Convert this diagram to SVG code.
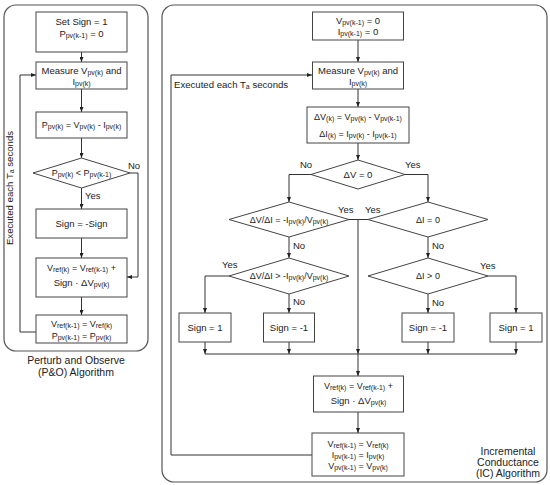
<svg xmlns="http://www.w3.org/2000/svg" width="550" height="485" viewBox="0 0 550 485">
<style>
text{font-family:"Liberation Sans",Arial,sans-serif;font-size:9.5px;fill:#222;text-anchor:middle}
.s{font-size:7px;baseline-shift:-1px}
.sm{font-size:9px}
.lbl{text-anchor:start;font-size:9.5px}
.ex{font-size:9.6px}
.cap{font-size:10.5px}
.box{fill:#fff;stroke:#444;stroke-width:1}
.panel{fill:none;stroke:#555;stroke-width:1.2}
.ln{fill:none;stroke:#333;stroke-width:1}
</style>
<defs>
<marker id="ah" viewBox="0 0 10 8" refX="10" refY="4" markerWidth="5" markerHeight="4" orient="auto" markerUnits="userSpaceOnUse">
<path d="M0,0 L10,4 L0,8 z" fill="#222"/>
</marker>
</defs>
<rect x="0" y="0" width="550" height="485" fill="#fff"/>
<g id="panels">
<rect class="panel" x="4" y="5" width="144" height="346" rx="12"/>
<rect class="panel" x="162" y="5" width="385" height="477" rx="12"/>
</g>
<g id="connectors">
<line class="ln" x1="81.5" y1="52" x2="81.5" y2="62" marker-end="url(#ah)"/>
<line class="ln" x1="81.5" y1="89" x2="81.5" y2="112" marker-end="url(#ah)"/>
<line class="ln" x1="81.5" y1="138" x2="81.5" y2="158" marker-end="url(#ah)"/>
<polyline class="ln" points="130,173 138,173 138,277 127,277" marker-end="url(#ah)"/>
<line class="ln" x1="81.5" y1="188" x2="81.5" y2="209" marker-end="url(#ah)"/>
<line class="ln" x1="81.5" y1="238" x2="81.5" y2="258" marker-end="url(#ah)"/>
<line class="ln" x1="81.5" y1="297" x2="81.5" y2="315" marker-end="url(#ah)"/>
<polyline class="ln" points="36,332 20,332 20,75 36,75" marker-end="url(#ah)"/>
<line class="ln" x1="358" y1="40" x2="358" y2="62" marker-end="url(#ah)"/>
<line class="ln" x1="358" y1="89" x2="358" y2="107" marker-end="url(#ah)"/>
<line class="ln" x1="358" y1="143" x2="358" y2="160" marker-end="url(#ah)"/>
<polyline class="ln" points="311,174.5 289,174.5 289,202" marker-end="url(#ah)"/>
<polyline class="ln" points="405,174.5 428,174.5 428,202" marker-end="url(#ah)"/>
<polyline class="ln" points="349,219.5 358,219.5 358,354" marker-end="url(#ah)"/>
<line class="ln" x1="368" y1="219.5" x2="358" y2="219.5"/>
<line class="ln" x1="289" y1="237" x2="289" y2="258" marker-end="url(#ah)"/>
<line class="ln" x1="428" y1="237" x2="428" y2="258" marker-end="url(#ah)"/>
<polyline class="ln" points="229,276 205,276 205,313" marker-end="url(#ah)"/>
<line class="ln" x1="289" y1="294" x2="289" y2="313" marker-end="url(#ah)"/>
<polyline class="ln" points="488,276 516,276 516,313" marker-end="url(#ah)"/>
<line class="ln" x1="428" y1="294" x2="428" y2="313" marker-end="url(#ah)"/>
<line class="ln" x1="205" y1="342" x2="205" y2="354" marker-end="url(#ah)"/>
<line class="ln" x1="289" y1="342" x2="289" y2="354" marker-end="url(#ah)"/>
<line class="ln" x1="428" y1="342" x2="428" y2="354" marker-end="url(#ah)"/>
<line class="ln" x1="516" y1="342" x2="516" y2="354" marker-end="url(#ah)"/>
<line class="ln" x1="205" y1="354" x2="516" y2="354"/>
<line class="ln" x1="358" y1="354" x2="358" y2="376" marker-end="url(#ah)"/>
<line class="ln" x1="358" y1="412" x2="358" y2="433" marker-end="url(#ah)"/>
<polyline class="ln" points="312,455 171,455 171,75 312,75" marker-end="url(#ah)"/>
<text class="lbl" x="128" y="169">No</text>
<text class="lbl" x="85" y="199">Yes</text>
<text class="ex" transform="translate(13,188) rotate(-90)">Executed each T<tspan class="s">a</tspan> seconds</text>
<text class="lbl ex" x="174" y="88">Executed each T<tspan class="s">a</tspan> seconds</text>
<text class="lbl" x="300" y="168">No</text>
<text class="lbl" x="405" y="168">Yes</text>
<text class="lbl" x="338" y="213">Yes</text>
<text class="lbl" x="365" y="213">Yes</text>
<text class="lbl" x="293" y="249">No</text>
<text class="lbl" x="432" y="249">No</text>
<text class="lbl" x="222" y="268">Yes</text>
<text class="lbl" x="480" y="269">Yes</text>
<text class="lbl" x="293" y="305">No</text>
<text class="lbl" x="432" y="306">No</text>
</g>
<g id="po-init">
<rect class="box" x="36" y="12" width="91" height="40"/>
<text x="81.5" y="25">Set Sign = 1</text>
<text x="81.5" y="37">P<tspan class="s">pv(k-1)</tspan> = 0</text>
</g>
<g id="po-measure">
<rect class="box" x="36" y="62" width="91" height="27"/>
<text x="81.5" y="74">Measure V<tspan class="s">pv(k)</tspan> and</text>
<text x="81.5" y="85">I<tspan class="s">pv(k)</tspan></text>
</g>
<g id="po-power">
<rect class="box" x="36" y="112" width="91" height="26"/>
<text class="sm" x="81.5" y="128">P<tspan class="s">pv(k)</tspan> =  V<tspan class="s">pv(k)</tspan> - I<tspan class="s">pv(k)</tspan></text>
</g>
<g id="po-compare">
<polygon class="box" points="81.5,158 130,173 81.5,188 33,173"/>
<text class="sm" x="81.5" y="176">P<tspan class="s">pv(k)</tspan> &lt;  P<tspan class="s">pv(k-1)</tspan></text>
</g>
<g id="po-sign">
<rect class="box" x="36" y="209" width="91" height="29"/>
<text x="81.5" y="227">Sign = -Sign</text>
</g>
<g id="po-vref">
<rect class="box" x="36" y="258" width="91" height="39"/>
<text class="sm" x="81.5" y="271">V<tspan class="s">ref(k)</tspan> =  V<tspan class="s">ref(k-1)</tspan> +</text>
<text x="81.5" y="286">Sign · ΔV<tspan class="s">pv(k)</tspan></text>
</g>
<g id="po-update">
<rect class="box" x="36" y="315" width="91" height="28"/>
<text class="sm" x="81.5" y="327">V<tspan class="s">ref(k-1)</tspan> = V<tspan class="s">ref(k)</tspan></text>
<text class="sm" x="81.5" y="339">P<tspan class="s">pv(k-1)</tspan> = P<tspan class="s">pv(k)</tspan></text>
</g>
<g id="po-caption">
<text class="cap" x="76" y="364">Perturb and Observe</text>
<text class="cap" x="76" y="376">(P&amp;O) Algorithm</text>
</g>
<g id="ic-init">
<rect class="box" x="312.5" y="12" width="91" height="28"/>
<text x="358" y="24">V<tspan class="s">pv(k-1)</tspan> = 0</text>
<text x="358" y="35">I<tspan class="s">pv(k-1)</tspan> = 0</text>
</g>
<g id="ic-measure">
<rect class="box" x="312.5" y="62" width="91" height="27"/>
<text x="358" y="74">Measure V<tspan class="s">pv(k)</tspan> and</text>
<text x="358" y="85">I<tspan class="s">pv(k)</tspan></text>
</g>
<g id="ic-delta">
<rect class="box" x="307" y="107" width="102" height="36"/>
<text class="sm" x="358" y="120">ΔV<tspan class="s">(k)</tspan> =  V<tspan class="s">pv(k)</tspan> - V<tspan class="s">pv(k-1)</tspan></text>
<text class="sm" x="358" y="137">ΔI<tspan class="s">(k)</tspan> =  I<tspan class="s">pv(k)</tspan> - I<tspan class="s">pv(k-1)</tspan></text>
</g>
<g id="ic-dv0">
<polygon class="box" points="358,160 405,174.5 358,189 311,174.5"/>
<text x="358" y="178">ΔV = 0</text>
</g>
<g id="ic-cond-eq">
<polygon class="box" points="289,202 349,219.5 289,237 229,219.5"/>
<text class="sm" x="289" y="223">ΔV/ΔI = -I<tspan class="s">pv(k)</tspan>/V<tspan class="s">pv(k)</tspan></text>
</g>
<g id="ic-di0">
<polygon class="box" points="428,202 488,219.5 428,237 368,219.5"/>
<text class="sm" x="428" y="223">ΔI = 0</text>
</g>
<g id="ic-cond-gt">
<polygon class="box" points="289,258 349,276 289,294 229,276"/>
<text class="sm" x="289" y="279">ΔV/ΔI &gt; -I<tspan class="s">pv(k)</tspan>/V<tspan class="s">pv(k)</tspan></text>
</g>
<g id="ic-digt">
<polygon class="box" points="428,258 488,276 428,294 368,276"/>
<text class="sm" x="428" y="279">ΔI &gt; 0</text>
</g>
<g id="ic-sign1a">
<rect class="box" x="179" y="313" width="52" height="29"/>
<text x="205" y="331">Sign = 1</text>
</g>
<g id="ic-signm1a">
<rect class="box" x="263.5" y="313" width="51" height="29"/>
<text x="289" y="331">Sign = -1</text>
</g>
<g id="ic-signm1b">
<rect class="box" x="402" y="313" width="52" height="29"/>
<text x="428" y="331">Sign = -1</text>
</g>
<g id="ic-sign1b">
<rect class="box" x="490" y="313" width="52" height="29"/>
<text x="516" y="331">Sign = 1</text>
</g>
<g id="ic-vref">
<rect class="box" x="313.5" y="376" width="90" height="36"/>
<text class="sm" x="358.5" y="389">V<tspan class="s">ref(k)</tspan> =  V<tspan class="s">ref(k-1)</tspan> +</text>
<text x="358.5" y="404">Sign · ΔV<tspan class="s">pv(k)</tspan></text>
</g>
<g id="ic-update">
<rect class="box" x="312" y="433" width="92" height="43"/>
<text class="sm" x="358" y="447">V<tspan class="s">ref(k-1)</tspan> = V<tspan class="s">ref(k)</tspan></text>
<text class="sm" x="358" y="458">I<tspan class="s">pv(k-1)</tspan> = I<tspan class="s">pv(k)</tspan></text>
<text class="sm" x="358" y="469">V<tspan class="s">pv(k-1)</tspan> = V<tspan class="s">pv(k)</tspan></text>
</g>
<g id="ic-caption">
<text class="cap" x="508" y="455">Incremental</text>
<text class="cap" x="508" y="466">Conductance</text>
<text class="cap" x="508" y="477">(IC) Algorithm</text>
</g>
</svg>
